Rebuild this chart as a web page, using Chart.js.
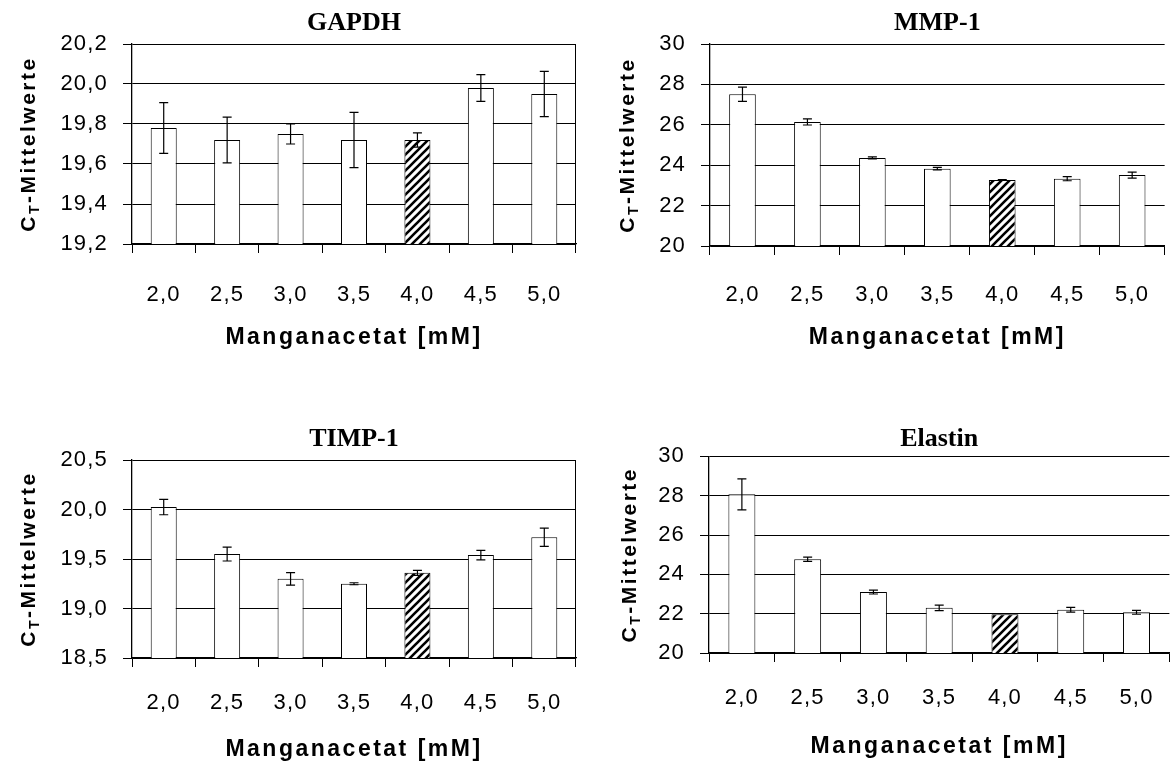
<!DOCTYPE html>
<html>
<head>
<meta charset="utf-8">
<script src="https://cdn.jsdelivr.net/npm/chart.js@4.4.1/dist/chart.umd.min.js"></script>
<style>
  body { margin: 0; background: #fff; }
  canvas { position: absolute; }
</style>
</head>
<body>
<canvas id="gapdh"   width="590" height="380" style="left:0;top:0"></canvas>
<canvas id="mmp1"    width="585" height="380" style="left:590px;top:0"></canvas>
<canvas id="timp1"   width="590" height="383" style="left:0;top:380px"></canvas>
<canvas id="elastin" width="585" height="383" style="left:590px;top:380px"></canvas>
<script>
/* Manganacetat concentrations [mM] */
const doses = ['2,0', '2,5', '3,0', '3,5', '4,0', '4,5', '5,0'];
const hatchedDose = '4,0';

/* CT means and error (+/-) per gene */
const gapdhMeans   = [19.78, 19.72, 19.75, 19.72, 19.72, 19.98, 19.95];
const gapdhErrors  = [0.127, 0.114, 0.05, 0.138, 0.036, 0.067, 0.113];
const mmp1Means    = [27.51, 26.14, 24.36, 23.83, 23.27, 23.33, 23.51];
const mmp1Errors   = [0.355, 0.15, 0.05, 0.06, 0.02, 0.1, 0.15];
const timp1Means   = [20.025, 19.55, 19.30, 19.25, 19.36, 19.54, 19.72];
const timp1Errors  = [0.078, 0.07, 0.063, 0.01, 0.025, 0.048, 0.092];
const elastinMeans  = [28.07, 24.77, 23.10, 22.30, 21.97, 22.20, 22.07];
const elastinErrors = [0.79, 0.11, 0.1, 0.14, 0.0, 0.12, 0.1];

/* y tick values */
const gapdhTicks   = [19.2, 19.4, 19.6, 19.8, 20.0, 20.2];
const mmp1Ticks    = [20, 22, 24, 26, 28, 30];
const timp1Ticks   = [18.5, 19.0, 19.5, 20.0, 20.5];
const elastinTicks = [20, 22, 24, 26, 28, 30];

const SANS  = '"Liberation Sans", Arial, sans-serif';
const SERIF = '"Liberation Serif", "Times New Roman", serif';

/* Error bars drawn on top of the bars, through the y scale */
const errorBars = {
  id: 'errorBars',
  afterDatasetsDraw(chart, args, opts) {
    const { ctx } = chart;
    const y = chart.scales.y;
    const values = chart.data.datasets[0].data;
    ctx.save();
    ctx.strokeStyle = '#000';
    ctx.lineWidth = 1.2;
    chart.getDatasetMeta(0).data.forEach((bar, i) => {
      const e = opts.errors[i];
      if (!e) return;
      const top = y.getPixelForValue(values[i] + e);
      const bot = y.getPixelForValue(values[i] - e);
      ctx.beginPath();
      ctx.moveTo(bar.x, top);      ctx.lineTo(bar.x, bot);
      ctx.moveTo(bar.x - 4.5, top); ctx.lineTo(bar.x + 4.5, top);
      ctx.moveTo(bar.x - 4.5, bot); ctx.lineTo(bar.x + 4.5, bot);
      ctx.stroke();
    });
    ctx.restore();
  },
};

/* Rotated y title with subscript T */
const yTitle = {
  id: 'yTitle',
  afterDraw(chart, args, opts) {
    const { ctx, chartArea } = chart;
    const big = 'bold 21px ' + SANS;
    const small = 'bold 14px ' + SANS;
    const parts = [['C', big, 0], ['T', small, 6], ['-Mittelwerte', big, 0]];
    ctx.save();
    ctx.letterSpacing = '2.5px';
    ctx.fillStyle = '#000';
    ctx.textBaseline = 'middle';
    ctx.textAlign = 'left';
    ctx.translate(opts.x, (chartArea.top + chartArea.bottom) / 2);
    ctx.rotate(-Math.PI / 2);
    const widths = parts.map(([t, f]) => { ctx.font = f; return ctx.measureText(t).width; });
    let x = -widths.reduce((a, b) => a + b, 0) / 2;
    parts.forEach(([t, f, dy], i) => {
      ctx.font = f;
      ctx.fillText(t, x, dy);
      x += widths[i];
    });
    ctx.restore();
  },
};

/* The sans tick text of the figure is slightly tracked */
const spacing = {
  id: 'spacing',
  beforeDraw(chart) { chart.ctx.letterSpacing = '1.2px'; },
  afterDraw(chart)  { chart.ctx.letterSpacing = '0px'; },
};

function withSpacing(chart, obj, key, value) {
  const orig = obj[key].bind(obj);
  obj[key] = (...args) => {
    const c = chart.ctx;
    c.save();
    c.letterSpacing = value;
    orig(...args);
    c.restore();
  };
}

function hatchPattern(ctx) {
  const c = document.createElement('canvas');
  c.width = 8; c.height = 8;
  const g = c.getContext('2d');
  g.fillStyle = '#fff';
  g.fillRect(0, 0, 8, 8);
  g.strokeStyle = '#000';
  g.lineWidth = 2.6;
  g.beginPath();
  g.moveTo(-2, 10); g.lineTo(10, -2);
  g.moveTo(-2, 2);  g.lineTo(2, -2);
  g.moveTo(6, 10);  g.lineTo(10, 6);
  g.stroke();
  return ctx.createPattern(c, 'repeat');
}

function panel(id, p) {
  const el = document.getElementById(id);
  const hatch = hatchPattern(el.getContext('2d'));
  const chart = new Chart(el, {
    type: 'bar',
    data: {
      labels: doses,
      datasets: [{
        data: p.means,
        backgroundColor: doses.map(d => d === hatchedDose ? hatch : '#fff'),
        borderColor: '#000',
        borderWidth: 1,
        borderSkipped: false,
        barPercentage: 0.41,
        categoryPercentage: 1,
      }],
    },
    options: {
      responsive: false,
      animation: false,
      devicePixelRatio: 1,
      layout: { padding: { left: 0, right: p.padRight, top: 0, bottom: 0 } },
      plugins: {
        legend:  { display: false },
        tooltip: { enabled: false },
        title: {
          display: true,
          text: p.title,
          fullSize: false,
          color: '#000',
          font: { family: SERIF, size: 26, weight: 'bold' },
          padding: { top: p.titleTop, bottom: p.titleBottom },
        },
        errorBars: { errors: p.errors },
        yTitle: { x: p.yTitleX },
      },
      scales: {
        x: {
          grid: {
            // only the closing line at the right edge is drawn in the plot
            color: c => (p.rightEdge && c.index === undefined) ? '#000' : 'transparent',
            tickColor: '#000',
            tickLength: 9,
          },
          border: { color: '#000', width: 1.3 },
          ticks: {
            color: '#000',
            font: { family: SANS, size: 22 },
            padding: p.xTickPad,
            maxRotation: 0,
            autoSkip: false,
          },
          title: {
            display: true,
            text: 'Manganacetat [mM]',
            color: '#000',
            font: { family: SANS, size: 23, weight: 'bold' },
            padding: { top: 0, bottom: p.xTitleBottom },
          },
          afterFit: s => { s.height = p.xHeight; },
        },
        y: {
          min: p.ticks[0],
          max: p.ticks[p.ticks.length - 1],
          afterBuildTicks: s => { s.ticks = p.ticks.map(v => ({ value: v })); },
          grid: { color: '#000', tickColor: '#000', tickLength: 9 },
          border: { color: '#000', width: 1.3 },
          ticks: {
            color: '#000',
            font: { family: SANS, size: 22 },
            padding: 15,
            callback: v => v.toFixed(p.decimals).replace('.', ','),
          },
          afterFit: s => { s.width = p.yWidth; },
        },
      },
    },
    plugins: [spacing, errorBars, yTitle],
  });

  /* header keeps normal spacing, the x title is widely tracked */
  withSpacing(chart, chart.titleBlock, 'draw', '0px');
  withSpacing(chart, chart.scales.x, 'drawTitle', '2.5px');
  chart.draw();
  return chart;
}

panel('gapdh', {
  title: 'GAPDH', means: gapdhMeans, errors: gapdhErrors, ticks: gapdhTicks, decimals: 1,
  yWidth: 132, padRight: 14, titleTop: 8.1, titleBottom: 4.7,
  xHeight: 136, xTickPad: 28.8, xTitleBottom: 28.5, yTitleX: 29, rightEdge: true,
});
panel('mmp1', {
  title: 'MMP-1', means: mmp1Means, errors: mmp1Errors, ticks: mmp1Ticks, decimals: 0,
  yWidth: 120, padRight: 0, titleTop: 8.1, titleBottom: 4.7,
  xHeight: 134, xTickPad: 26.8, xTitleBottom: 28.5, yTitleX: 38, rightEdge: false,
});
panel('timp1', {
  title: 'TIMP-1', means: timp1Means, errors: timp1Errors, ticks: timp1Ticks, decimals: 1,
  yWidth: 132, padRight: 14, titleTop: 43.4, titleBottom: 5.4,
  xHeight: 105, xTickPad: 22.8, xTitleBottom: 0, yTitleX: 29, rightEdge: true,
});
panel('elastin', {
  title: 'Elastin', means: elastinMeans, errors: elastinErrors, ticks: elastinTicks, decimals: 0,
  yWidth: 119, padRight: 0, titleTop: 43.4, titleBottom: 1.8,
  xHeight: 110, xTickPad: 22.8, xTitleBottom: 2.5, yTitleX: 40, rightEdge: false,
});
</script>
</body>
</html>
